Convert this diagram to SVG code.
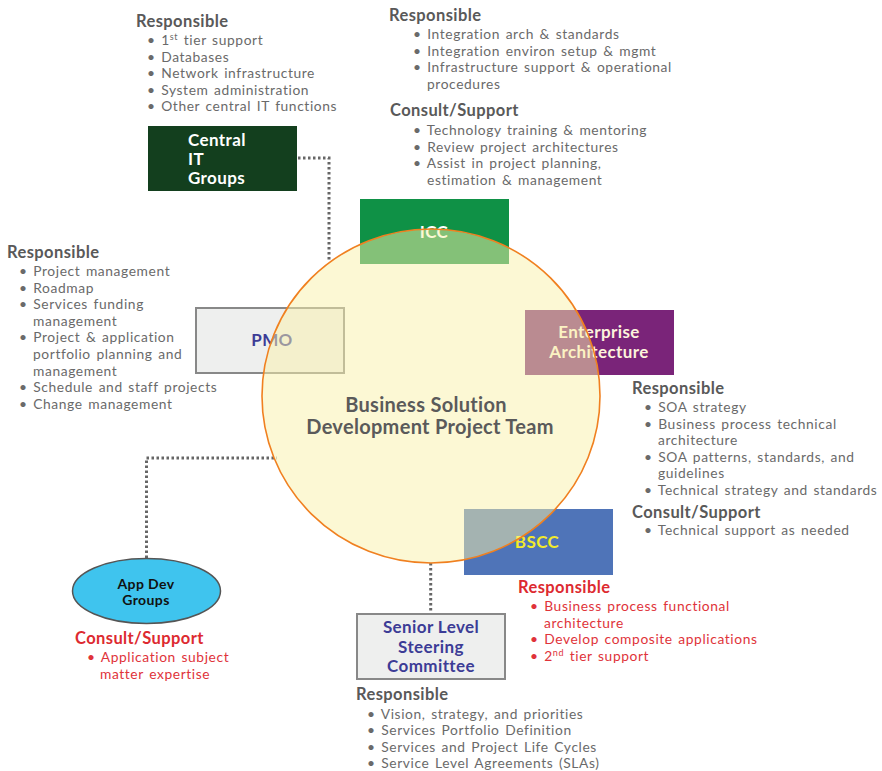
<svg xmlns="http://www.w3.org/2000/svg" width="882" height="771" viewBox="0 0 882 771">
<style>
text{font-family:Lato,"Open Sans","Liberation Sans",sans-serif}
.h{font-size:16.5px;font-weight:bold;fill:#595959;letter-spacing:0.4px}
.i{font-size:13.8px;fill:#6a6a6a;letter-spacing:0.6px;word-spacing:1.5px}
.hr{font-size:16.5px;font-weight:bold;fill:#dd2a30;letter-spacing:0.4px}
.ir{font-size:13.8px;fill:#e0333a;letter-spacing:0.6px;word-spacing:1.5px}
.sup{font-size:9px}
.lbl{font-weight:bold;font-size:17px;letter-spacing:0.4px}
.conn{fill:none;stroke:#666;stroke-width:3;stroke-dasharray:2.5 2.5}
</style>
<rect width="882" height="771" fill="#fff"/>
<g id="connectors">
<path class="conn" d="M298 158 H329 V262"/>
<path class="conn" d="M146.5 558 V458 H277"/>
<path class="conn" d="M430.7 563 V613"/>
</g>
<g id="central-it">
<rect x="148" y="126" width="149" height="65" fill="#133f1e"/>
<text class="lbl" fill="#fff" x="188" y="146">Central</text>
<text class="lbl" fill="#fff" x="188" y="165">IT</text>
<text class="lbl" fill="#fff" x="188" y="184">Groups</text>
</g>
<g id="icc">
<rect x="360" y="199" width="149" height="65" fill="#0f9146"/>
<text class="lbl" fill="#fff" x="434" y="238" text-anchor="middle">ICC</text>
</g>
<g id="pmo">
<rect x="196" y="308" width="148" height="65" fill="#eeefee" stroke="#888" stroke-width="2"/>
<text class="lbl" fill="#3c3c96" x="272" y="346" text-anchor="middle">PMO</text>
</g>
<g id="ea">
<rect x="525" y="310" width="149" height="65" fill="#7a2479"/>
<text class="lbl" fill="#fdf3dc" x="599" y="338" text-anchor="middle">Enterprise</text>
<text class="lbl" fill="#fdf3dc" x="599" y="358" text-anchor="middle">Architecture</text>
</g>
<g id="bscc">
<rect x="464" y="509" width="149" height="66" fill="#4f74b8"/>
<text class="lbl" fill="#f2ea2a" x="537" y="548" text-anchor="middle">BSCC</text>
</g>
<g id="team">
<ellipse cx="431" cy="396" rx="169" ry="167" fill="#f9f1a9" fill-opacity="0.5" stroke="#f08020" stroke-width="1.6"/>
<text x="426" y="412" text-anchor="middle" font-size="20" font-weight="bold" fill="#5a5a5a" letter-spacing="0.3">Business Solution</text>
<text x="430" y="434" text-anchor="middle" font-size="20" font-weight="bold" fill="#5a5a5a" letter-spacing="0.3">Development Project Team</text>
</g>
<g id="steering">
<rect x="357" y="614" width="148" height="65" fill="#eeefee" stroke="#888" stroke-width="2"/>
<text class="lbl" fill="#3c3c96" x="431" y="633" text-anchor="middle">Senior Level</text>
<text class="lbl" fill="#3c3c96" x="431" y="653" text-anchor="middle">Steering</text>
<text class="lbl" fill="#3c3c96" x="431" y="672" text-anchor="middle">Committee</text>
</g>
<g id="appdev">
<ellipse cx="146.5" cy="591" rx="74" ry="32.5" fill="#3fc4ee" stroke="#555" stroke-width="1.5"/>
<text x="146" y="589" text-anchor="middle" font-size="14" font-weight="bold" fill="#111" letter-spacing="0.4">App Dev</text>
<text x="146" y="605" text-anchor="middle" font-size="14" font-weight="bold" fill="#111" letter-spacing="0.4">Groups</text>
</g>
<g id="central-it-text">
<text class="h" x="136" y="27">Responsible</text>
<text class="i" x="147" y="45">• 1<tspan class="sup" dy="-5">st</tspan><tspan dy="5"> tier support</tspan></text>
<text class="i" x="147" y="61.6">• Databases</text>
<text class="i" x="147" y="78.2">• Network infrastructure</text>
<text class="i" x="147" y="94.8">• System administration</text>
<text class="i" x="147" y="111.4">• Other central IT functions</text>
</g>
<g id="icc-text">
<text class="h" x="389" y="21">Responsible</text>
<text class="i" x="413" y="39">• Integration arch &amp; standards</text>
<text class="i" x="413" y="55.6">• Integration environ setup &amp; mgmt</text>
<text class="i" x="413" y="72.2">• Infrastructure support &amp; operational</text>
<text class="i" x="427" y="88.8">procedures</text>
<text class="h" x="390" y="116">Consult/Support</text>
<text class="i" x="413" y="135">• Technology training &amp; mentoring</text>
<text class="i" x="413" y="151.6">• Review project architectures</text>
<text class="i" x="413" y="168.2">• Assist in project planning,</text>
<text class="i" x="427" y="184.8">estimation &amp; management</text>
</g>
<g id="pmo-text">
<text class="h" x="7" y="258">Responsible</text>
<text class="i" x="19" y="276">• Project management</text>
<text class="i" x="19" y="292.6">• Roadmap</text>
<text class="i" x="19" y="309.2">• Services funding</text>
<text class="i" x="33" y="325.8">management</text>
<text class="i" x="19" y="342.4">• Project &amp; application</text>
<text class="i" x="33" y="359">portfolio planning and</text>
<text class="i" x="33" y="375.6">management</text>
<text class="i" x="19" y="392.2">• Schedule and staff projects</text>
<text class="i" x="19" y="408.8">• Change management</text>
</g>
<g id="ea-text">
<text class="h" x="632" y="394">Responsible</text>
<text class="i" x="644" y="412">• SOA strategy</text>
<text class="i" x="644" y="428.6">• Business process technical</text>
<text class="i" x="658" y="445.2">architecture</text>
<text class="i" x="644" y="461.8">• SOA patterns, standards, and</text>
<text class="i" x="658" y="478.4">guidelines</text>
<text class="i" x="644" y="495">• Technical strategy and standards</text>
<text class="h" x="632" y="518">Consult/Support</text>
<text class="i" x="644" y="535">• Technical support as needed</text>
</g>
<g id="bscc-text">
<text class="hr" x="518" y="593">Responsible</text>
<text class="ir" x="530" y="611">• Business process functional</text>
<text class="ir" x="544" y="627.6">architecture</text>
<text class="ir" x="530" y="644.2">• Develop composite applications</text>
<text class="ir" x="530" y="660.8">• 2<tspan class="sup" dy="-5">nd</tspan><tspan dy="5"> tier support</tspan></text>
</g>
<g id="appdev-text">
<text class="hr" x="75" y="644">Consult/Support</text>
<text class="ir" x="87" y="662">• Application subject</text>
<text class="ir" x="100" y="678.6">matter expertise</text>
</g>
<g id="steering-text">
<text class="h" x="356" y="700">Responsible</text>
<text class="i" x="367" y="718.6">• Vision, strategy, and priorities</text>
<text class="i" x="367" y="735.2">• Services Portfolio Definition</text>
<text class="i" x="367" y="751.8">• Services and Project Life Cycles</text>
<text class="i" x="367" y="768.4">• Service Level  Agreements (SLAs)</text>
</g>
</svg>
